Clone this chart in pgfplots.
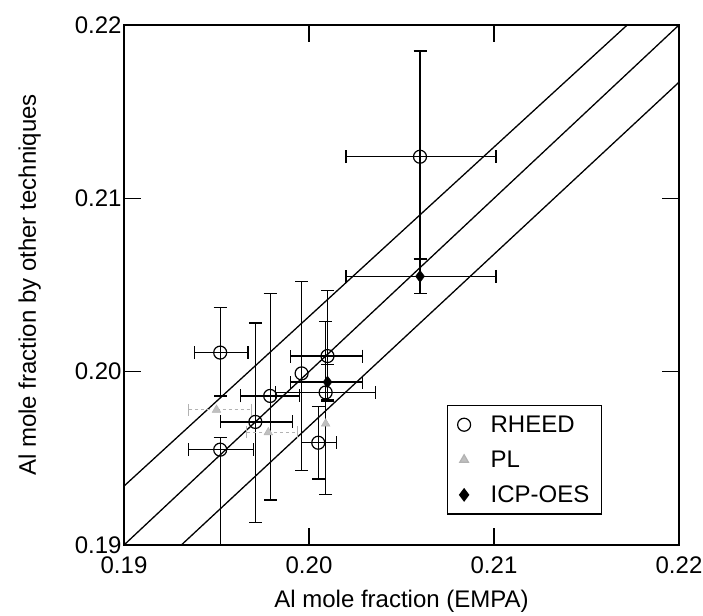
\documentclass[border=0pt]{standalone}
\usepackage{fontspec}
\setmainfont{Liberation Sans}
\usepackage{pgfplots}
\pgfplotsset{compat=1.18}
\usepackage{pgfplotstable}

% RHEED points with x and y error bars
\pgfplotstableread{
x y exm exp eym eyp
0.1952 0.2011 0.0014 0.0015 0.0025 0.0026
0.1952 0.1955 0.0017 0.0018 0.0060 0.0007
0.1971 0.1971 0.0019 0.0020 0.0058 0.0057
0.1979 0.1986 0.0016 0.0016 0.0060 0.0059
0.2010 0.2009 0.0020 0.0019 0.0026 0.0038
0.2009 0.1988 0.0027 0.0027 0.0059 0.0041
0.2005 0.1959 0.0009 0.0010 0.0021 0.0021
0.2060 0.2124 0.0040 0.0041 0.0059 0.0061
}\rheed
% RHEED point with only y error bars
\pgfplotstableread{
x y eym eyp
0.1996 0.1999 0.0056 0.0053
}\rheedy
% PL points
\pgfplotstableread{
x y exm exp
0.1950 0.1978 0.0015 0.0019
0.1978 0.1965 0.0012 0.0016
}\pl
\pgfplotstableread{
x y
0.2009 0.1970
}\plb
% ICP-OES points
\pgfplotstableread{
x y exm exp eym eyp
0.2010 0.1994 0.0020 0.0019 0.0010 0.0010
0.2060 0.2055 0.0040 0.0041 0.0010 0.0010
}\icp

\begin{document}
\begin{tikzpicture}
\begin{axis}[
  at={(0,0)}, anchor=south west,
  width=555pt, height=520pt, scale only axis,
  xmin=0.19, xmax=0.22, ymin=0.19, ymax=0.22,
  xtick={0.19,0.20,0.21,0.22}, ytick={0.19,0.20,0.21,0.22},
  xticklabels={0.19,0.20,0.21,0.22}, yticklabels={0.19,0.20,0.21,0.22},
  scaled ticks=false,
  tick align=inside, major tick length=17pt,
  axis line style={line width=1.6pt},
  every tick/.style={black, line width=1.4pt},
  tick label style={font=\fontsize{24}{28}\selectfont},
  xticklabel shift=8pt,
  yticklabel shift=-1pt,
  label style={font=\fontsize{24}{28}\selectfont},
  xlabel={Al mole fraction (EMPA)},
  ylabel={Al mole fraction by other techniques},
  xlabel style={at={(axis description cs:0.5,-0.108)}, anchor=center},
  ylabel style={at={(axis description cs:-0.170,0.5)}, anchor=center},
  legend style={at={(0.582,0.269)}, anchor=north west, draw=black, line width=1.2pt,
    font=\fontsize{24}{28}\selectfont, row sep=13pt, inner xsep=10pt, inner ysep=8pt,
    cells={anchor=west}},
  legend cell align=left,
]
% diagonal lines
\addplot[black, line width=1.3pt, forget plot] coordinates {(0.19,0.19) (0.22,0.22)};
\addplot[black, line width=1.3pt, forget plot] coordinates {(0.19,0.1934) (0.2172,0.22)};
\addplot[black, line width=1.3pt, forget plot] coordinates {(0.1931,0.19) (0.22,0.2167)};

% RHEED
\addplot[black, only marks, mark=o, mark size=6.5pt, mark options={line width=1.2pt, fill=none},
  error bars/.cd, x dir=both, y dir=both, x explicit, y explicit,
  error bar style={line width=1.3pt, black},
  error mark options={rotate=90, mark size=6.5pt, line width=1.3pt, black}]
  table[x=x, y=y, x error minus=exm, x error plus=exp, y error minus=eym, y error plus=eyp]{\rheed};
% PL
\addplot[gray!60, only marks, mark=triangle*, mark size=5pt, mark options={fill=gray!50, draw=gray!60},
  error bars/.cd, x dir=both, x explicit,
  error bar style={line width=1.1pt, gray!60, dashed},
  error mark options={rotate=90, mark size=6pt, line width=1.1pt, gray!60, solid}]
  table[x=x, y=y, x error minus=exm, x error plus=exp]{\pl};
% ICP-OES
\addplot[black, only marks, mark=diamond*, mark size=6pt, mark options={fill=black},
  error bars/.cd, x dir=both, y dir=both, x explicit, y explicit,
  error bar style={line width=1.3pt, black},
  error mark options={rotate=90, mark size=6.5pt, line width=1.3pt, black}]
  table[x=x, y=y, x error minus=exm, x error plus=exp, y error minus=eym, y error plus=eyp]{\icp};

% extra RHEED point (vertical error bar only)
\addplot[black, only marks, mark=o, mark size=6.5pt, mark options={line width=1.2pt, fill=none}, forget plot,
  error bars/.cd, y dir=both, y explicit,
  error bar style={line width=1.3pt, black},
  error mark options={rotate=90, mark size=6.5pt, line width=1.3pt, black}]
  table[x=x, y=y, y error minus=eym, y error plus=eyp]{\rheedy};
% extra PL point
\addplot[gray!60, only marks, mark=triangle*, mark size=5pt, mark options={fill=gray!50, draw=gray!60}, forget plot]
  table[x=x, y=y]{\plb};

\legend{\hspace{18pt}RHEED, \hspace{18pt}PL, \hspace{18pt}ICP-OES}
\end{axis}
\pgfresetboundingbox
\path (-124pt,-70pt) rectangle (579pt,545pt);
\end{tikzpicture}
\end{document}
